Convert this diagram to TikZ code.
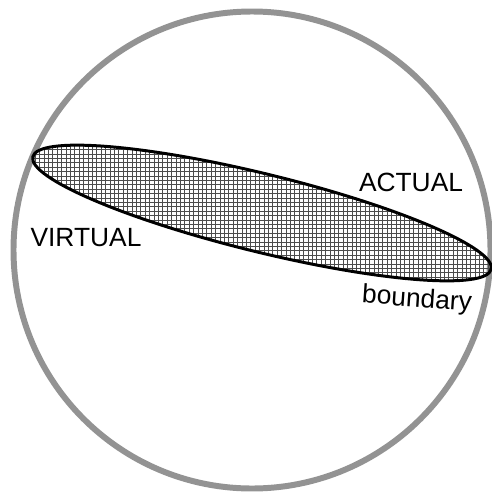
\documentclass[tikz,border=0pt]{standalone}
\usepackage{fontspec}
\setmainfont{Liberation Sans}
\begin{document}
\begin{tikzpicture}[
  x=0.02cm, y=-0.02cm,
  tag/.style={font=\fontsize{15}{18}\selectfont, inner sep=0pt},
  rim/.style={draw=gray!85, line width=3.4pt},
  disc/.style={draw=black, line width=1.7pt},
  hatchgrid/.style={draw=black!70, line width=0.45pt},
]
  \useasboundingbox (0,0) rectangle (491,494);

  % outer sphere
  \draw[rim] (252,250) circle[radius=238.5];

  % tilted boundary disc, hatched
  \begin{scope}
    \clip[rotate around={-13.8:(262,213)}] (262,213) ellipse[x radius=236, y radius=39];
    \draw[hatchgrid, step=0.088cm] (20,130) grid (500,300);
  \end{scope}
  \draw[disc, rotate around={-13.8:(262,213)}] (262,213) ellipse[x radius=236, y radius=39];

  % labels
  \node[tag] (actual) at (411,182) {ACTUAL};
  \node[tag] (virtual) at (86,238) {VIRTUAL};
  \node[tag, rotate=-4] (bnd) at (417,300) {boundary};
\end{tikzpicture}
\end{document}
